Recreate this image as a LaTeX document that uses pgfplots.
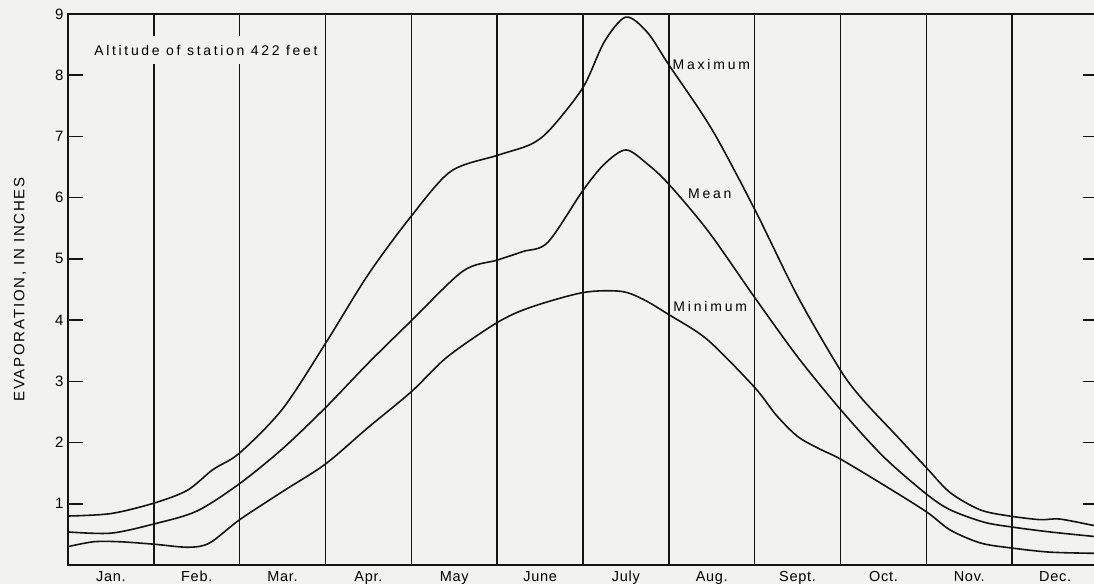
\documentclass[border=0pt]{standalone}
\usepackage{fontspec}
\setmainfont{Liberation Sans}
\newfontfamily\lblfont[LetterSpace=20]{Liberation Sans}
\newfontfamily\altfont[LetterSpace=19]{Liberation Sans}
\newfontfamily\yfont[LetterSpace=12]{Liberation Sans}
\newfontfamily\monfont[LetterSpace=5]{Liberation Sans}
\usepackage{pgfplots}
\pgfplotsset{compat=1.18}
\definecolor{paper}{RGB}{242,242,240}
\definecolor{ink}{RGB}{20,20,20}
\begin{document}
\begin{tikzpicture}
\fill[paper] (0,0) rectangle (1094pt,584pt);
\begin{axis}[
  at={(68pt,19pt)}, anchor=south west,
  scale only axis, width=1030pt, height=551pt,
  xmin=0, xmax=12, ymin=0, ymax=9,
  axis line style={ink, line width=1.6pt},
  xtick={1,...,11}, xticklabels={},
  xmajorgrids, grid style={ink, line width=1.4pt},
  xtick style={draw=none},
  extra x ticks={0.5,1.5,...,11.5},
  extra x tick labels={Jan.,Feb.,Mar.,Apr.,May,June,July,Aug.,Sept.,Oct.,Nov.,Dec.},
  extra x tick style={grid=none, xticklabel style={font=\monfont\fontsize{14.5}{16}\selectfont, anchor=north, text height=10.5pt, text depth=3pt, yshift=-2pt}},
  ytick={1,...,9},
  tick align=inside, major tick length=15pt,
  ytick style={ink, line width=1.5pt},
  yticklabel style={font=\fontsize{15}{17}\selectfont, xshift=-1pt},
  /pgf/number format/assume math mode=true,
  clip=false,
]
\addplot[ink, line width=1.6pt, smooth, tension=0.5] coordinates {
(0,0.80) (0.5,0.84) (1.0,1.01) (1.39,1.22) (1.69,1.56) (2.0,1.83) (2.5,2.55) (3.0,3.62)
(3.5,4.75) (4.0,5.70) (4.46,6.43) (5.0,6.69) (5.39,6.87) (5.62,7.12) (6.0,7.80)
(6.25,8.55) (6.5,8.95) (6.75,8.70) (7.0,8.17) (7.5,7.12) (8.0,5.81) (8.5,4.39)
(9.0,3.18) (9.26,2.70) (9.62,2.16) (10.0,1.59) (10.28,1.18) (10.63,0.90) (10.97,0.80)
(11.33,0.74) (11.56,0.75) (12.0,0.63)
};
\addplot[ink, line width=1.6pt, smooth, tension=0.5] coordinates {
(0,0.54) (0.5,0.52) (1.0,0.67) (1.5,0.88) (2.0,1.33) (2.5,1.90) (3.0,2.57)
(3.5,3.30) (4.0,3.99) (4.6,4.80) (5.0,4.98) (5.3,5.12) (5.59,5.27) (6.0,6.12)
(6.25,6.55) (6.5,6.78) (6.75,6.55) (7.0,6.22) (7.46,5.45) (8.0,4.37) (8.5,3.40)
(9.0,2.54) (9.5,1.77) (10.0,1.16) (10.28,0.90) (10.67,0.70) (11.0,0.62)
(11.44,0.54) (12.0,0.46)
};
\addplot[ink, line width=1.6pt, smooth, tension=0.5] coordinates {
(0,0.30) (0.3,0.38) (0.6,0.38) (1.0,0.34) (1.4,0.29) (1.65,0.36) (2.0,0.74)
(2.5,1.20) (3.0,1.65) (3.5,2.25) (4.0,2.83) (4.42,3.40) (5.0,3.96) (5.39,4.21)
(6.0,4.45) (6.44,4.47) (6.7,4.34) (7.0,4.09) (7.45,3.68) (8.0,2.90) (8.25,2.45)
(8.5,2.10) (8.75,1.90) (9.0,1.73) (9.5,1.31) (10.0,0.87) (10.28,0.57) (10.63,0.36) (10.98,0.28)
(11.44,0.21) (12.0,0.19)
};
\node[anchor=west, inner xsep=3pt, inner ysep=9pt, fill=paper, font=\altfont\fontsize{14}{16}\selectfont] at (axis cs:0.27,8.41) {Altitude of station 422 feet};
\node[anchor=west, inner sep=1pt, font=\lblfont\fontsize{14}{16}\selectfont] at (axis cs:7.03,8.18) {Maximum};
\node[anchor=west, inner sep=1pt, font=\lblfont\fontsize{14}{16}\selectfont] at (axis cs:7.21,6.06) {Mean};
\node[anchor=west, inner sep=1pt, font=\lblfont\fontsize{14}{16}\selectfont] at (axis cs:7.04,4.22) {Minimum};
\node[rotate=90, anchor=center, font=\yfont\fontsize{15}{17}\selectfont] at (axis description cs:-0.0466,0.5) {EVAPORATION, IN INCHES};
\end{axis}
\pgfresetboundingbox
\path[use as bounding box] (0,0) rectangle (1094pt,584pt);
\end{tikzpicture}
\end{document}
